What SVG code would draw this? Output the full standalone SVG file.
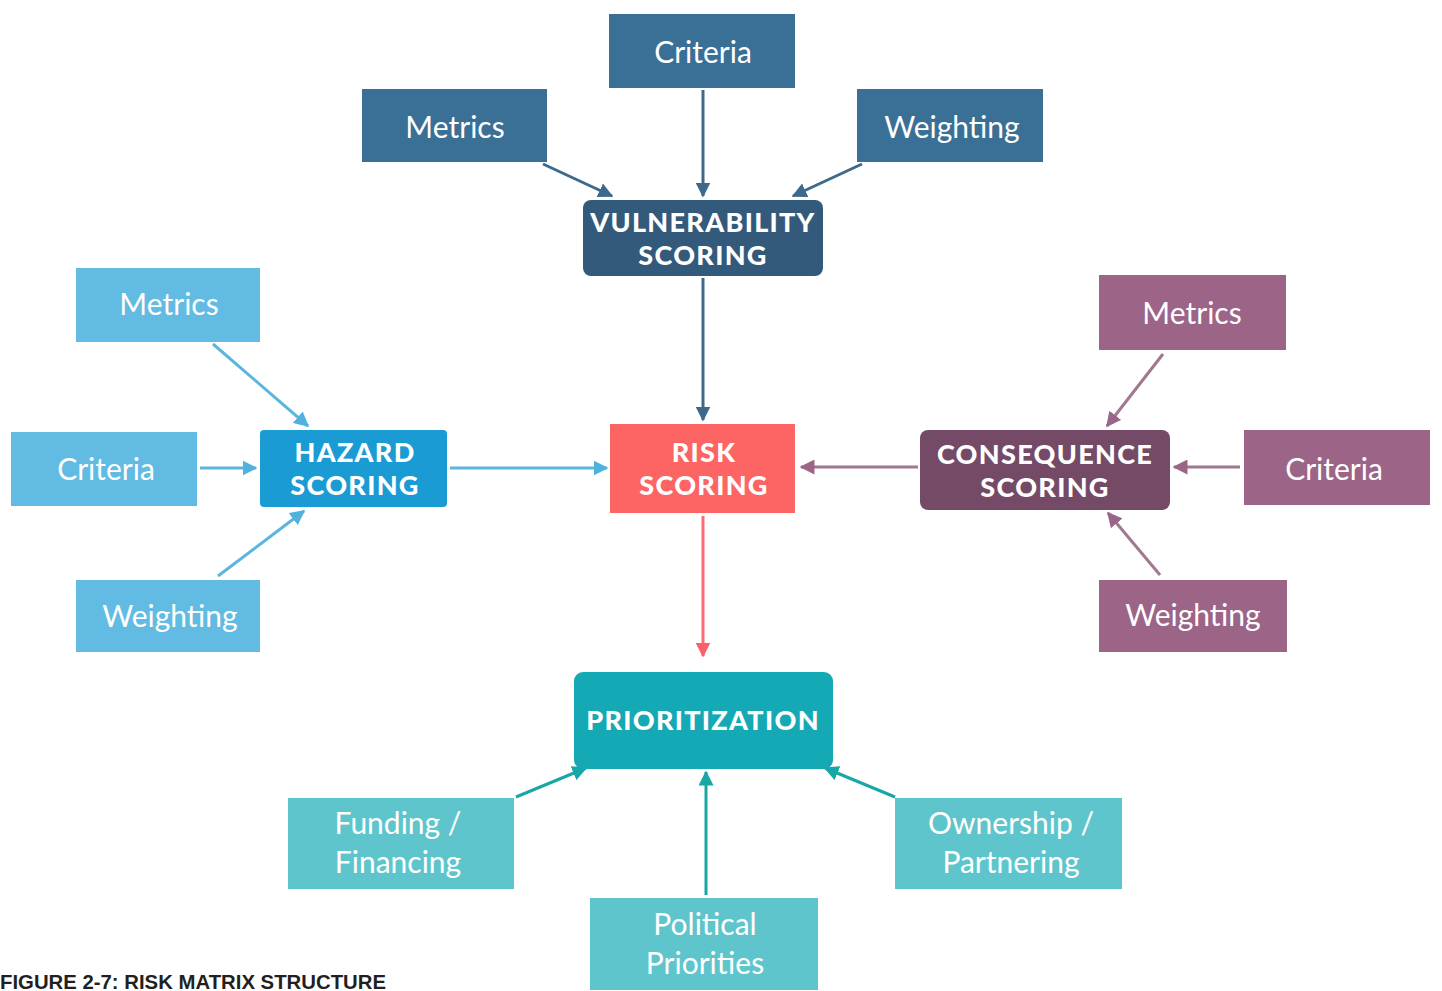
<svg xmlns="http://www.w3.org/2000/svg" width="1442" height="991" viewBox="0 0 1442 991">
<defs>
<style>
.lbl{font-family:Lato,"Open Sans","Noto Sans",sans-serif;font-size:30px;fill:#fff;text-anchor:middle}
.hd{font-family:Lato,"Open Sans","Noto Sans",sans-serif;font-size:27px;font-weight:900;fill:#fff;text-anchor:middle;letter-spacing:1.3px}
.c{fill:none;stroke-width:3}
.cap{font-family:"Liberation Sans",Arial,sans-serif;font-size:20px;font-weight:bold;fill:#231f20}
</style>
<marker id="mV" viewBox="0 0 10 10" refX="9" refY="5" markerWidth="5" markerHeight="5" orient="auto-start-reverse"><path d="M0,0 L10,5 L0,10 Z" fill="#3d6a8c"/></marker>
<marker id="mH" viewBox="0 0 10 10" refX="9" refY="5" markerWidth="5" markerHeight="5" orient="auto-start-reverse"><path d="M0,0 L10,5 L0,10 Z" fill="#4fb2dc"/></marker>
<marker id="mC" viewBox="0 0 10 10" refX="9" refY="5" markerWidth="5" markerHeight="5" orient="auto-start-reverse"><path d="M0,0 L10,5 L0,10 Z" fill="#9a6688"/></marker>
<marker id="mR" viewBox="0 0 10 10" refX="9" refY="5" markerWidth="5" markerHeight="5" orient="auto-start-reverse"><path d="M0,0 L10,5 L0,10 Z" fill="#fb5f6c"/></marker>
<marker id="mP" viewBox="0 0 10 10" refX="9" refY="5" markerWidth="5" markerHeight="5" orient="auto-start-reverse"><path d="M0,0 L10,5 L0,10 Z" fill="#17a7a6"/></marker>
</defs>
<rect width="1442" height="991" fill="#ffffff"/>

<g id="connectors">
<line class="c" stroke="#3d6a8c" x1="543" y1="164" x2="612" y2="196" marker-end="url(#mV)"/>
<line class="c" stroke="#3d6a8c" x1="703" y1="90" x2="703" y2="196" marker-end="url(#mV)"/>
<line class="c" stroke="#3d6a8c" x1="862" y1="164" x2="793" y2="196" marker-end="url(#mV)"/>
<line class="c" stroke="#3d6a8c" x1="703" y1="278" x2="703" y2="420" marker-end="url(#mV)"/>

<line class="c" stroke="#5ab6dc" x1="213" y1="344" x2="308" y2="426" marker-end="url(#mH)"/>
<line class="c" stroke="#5ab6dc" x1="200" y1="468" x2="256" y2="468" marker-end="url(#mH)"/>
<line class="c" stroke="#5ab6dc" x1="218" y1="576" x2="304" y2="511" marker-end="url(#mH)"/>
<line class="c" stroke="#5ab6dc" x1="450" y1="468" x2="607" y2="468" marker-end="url(#mH)"/>

<line class="c" stroke="#a07890" x1="918" y1="467" x2="801" y2="467" marker-end="url(#mC)"/>
<line class="c" stroke="#a07890" x1="1163" y1="354" x2="1107" y2="426" marker-end="url(#mC)"/>
<line class="c" stroke="#a07890" x1="1240" y1="467" x2="1174" y2="467" marker-end="url(#mC)"/>
<line class="c" stroke="#a07890" x1="1160" y1="575" x2="1108" y2="513" marker-end="url(#mC)"/>

<line class="c" stroke="#fc6a76" x1="703" y1="516" x2="703" y2="656" marker-end="url(#mR)"/>

<line class="c" stroke="#17a7a6" x1="516" y1="797" x2="586" y2="768" marker-end="url(#mP)"/>
<line class="c" stroke="#17a7a6" x1="706" y1="895" x2="706" y2="772" marker-end="url(#mP)"/>
<line class="c" stroke="#17a7a6" x1="895" y1="797" x2="825" y2="768" marker-end="url(#mP)"/>
</g>

<g id="v-criteria"><rect x="609" y="14" width="186" height="74" fill="#3a6f96"/><text class="lbl" x="703" y="63">Criteria</text></g>
<g id="v-metrics"><rect x="362" y="89" width="185" height="73" fill="#3a6f96"/><text class="lbl" x="455" y="138">Metrics</text></g>
<g id="v-weighting"><rect x="857" y="89" width="186" height="73" fill="#3a6f96"/><text class="lbl" x="952" y="138">Weighting</text></g>
<g id="vulnerability"><rect x="583" y="200" width="240" height="76" rx="8" fill="#335a7b"/><text class="hd" x="703" y="232">VULNERABILITY</text><text class="hd" x="703" y="265">SCORING</text></g>

<g id="h-metrics"><rect x="76" y="268" width="184" height="74" fill="#62bbe2"/><text class="lbl" x="169" y="315">Metrics</text></g>
<g id="h-criteria"><rect x="11" y="432" width="186" height="74" fill="#62bbe2"/><text class="lbl" x="106" y="480">Criteria</text></g>
<g id="h-weighting"><rect x="76" y="580" width="184" height="72" fill="#62bbe2"/><text class="lbl" x="170" y="627">Weighting</text></g>
<g id="hazard"><rect x="260" y="430" width="187" height="77" rx="4" fill="#1a9bd4"/><text class="hd" x="355" y="462">HAZARD</text><text class="hd" x="355" y="495">SCORING</text></g>

<g id="risk"><rect x="610" y="424" width="185" height="89" fill="#fd6464"/><text class="hd" x="704" y="462">RISK</text><text class="hd" x="704" y="495">SCORING</text></g>

<g id="c-metrics"><rect x="1099" y="275" width="187" height="75" fill="#9c6487"/><text class="lbl" x="1192" y="324">Metrics</text></g>
<g id="c-criteria"><rect x="1244" y="430" width="186" height="75" fill="#9c6487"/><text class="lbl" x="1334" y="480">Criteria</text></g>
<g id="c-weighting"><rect x="1099" y="580" width="188" height="72" fill="#9c6487"/><text class="lbl" x="1193" y="626">Weighting</text></g>
<g id="consequence"><rect x="920" y="430" width="250" height="80" rx="8" fill="#744a66"/><text class="hd" x="1045" y="464">CONSEQUENCE</text><text class="hd" x="1045" y="497">SCORING</text></g>

<g id="prioritization"><rect x="574" y="672" width="259" height="97" rx="9" fill="#15a9b5"/><text class="hd" x="703" y="730">PRIORITIZATION</text></g>
<g id="funding"><rect x="288" y="798" width="226" height="91" fill="#5fc5cc"/><text class="lbl" x="398" y="834">Funding /</text><text class="lbl" x="398" y="873">Financing</text></g>
<g id="political"><rect x="590" y="898" width="228" height="92" fill="#5fc5cc"/><text class="lbl" x="705" y="935">Political</text><text class="lbl" x="705" y="974">Priorities</text></g>
<g id="ownership"><rect x="895" y="798" width="227" height="91" fill="#5fc5cc"/><text class="lbl" x="1011" y="834">Ownership /</text><text class="lbl" x="1011" y="873">Partnering</text></g>

<text class="cap" x="0" y="989" textLength="386" lengthAdjust="spacingAndGlyphs">FIGURE 2-7: RISK MATRIX STRUCTURE</text>
</svg>
